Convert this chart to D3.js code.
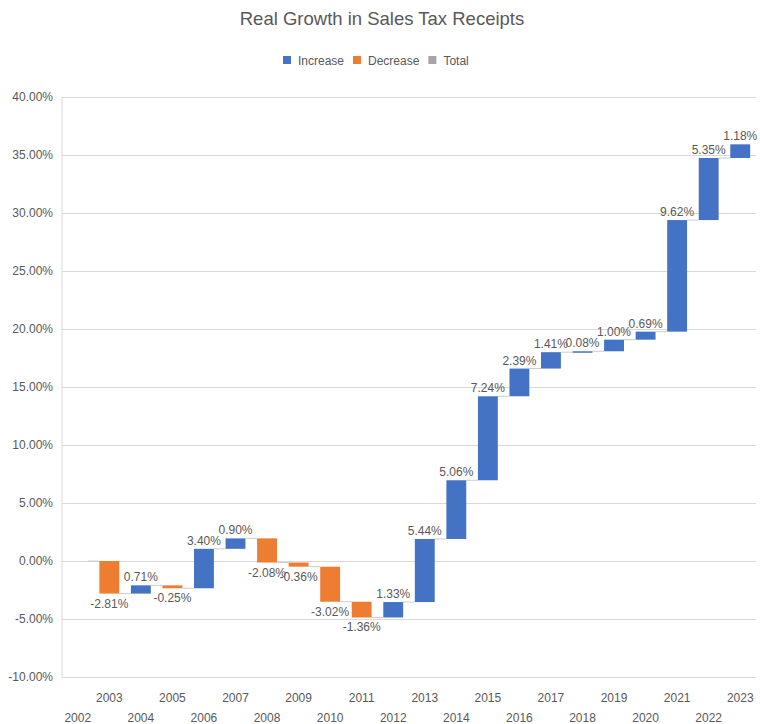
<!DOCTYPE html>
<html>
<head>
<meta charset="utf-8">
<script src="https://cdn.jsdelivr.net/npm/d3@7"></script>
<style>
  body { margin: 0; background: #fff; }
  svg { display: block; font-family: "Liberation Sans", Arial, sans-serif; }
</style>
</head>
<body>
<svg id="chart" width="760" height="724"></svg>
<script>
// data
const years = ["2002", "2003", "2004", "2005", "2006", "2007", "2008", "2009", "2010", "2011", "2012",
	"2013", "2014", "2015", "2016", "2017", "2018", "2019", "2020", "2021", "2022", "2023"];
const changes = [null, -2.81, 0.71, -0.25, 3.40, 0.90, -2.08, -0.36, -3.02, -1.36, 1.33,
	5.44, 5.06, 7.24, 2.39, 1.41, 0.08, 1.00, 0.69, 9.62, 5.35, 1.18];
const yTicks = [-10, -5, 0, 5, 10, 15, 20, 25, 30, 35, 40];
const legendItems = [
	{ name: "Increase", color: "#4472C4" },
	{ name: "Decrease", color: "#ED7D31" },
	{ name: "Total", color: "#A5A5A5" },
];

const textColor = "#595959";
const gridColor = "#D9D9D9";

// plain hyphen for negatives, like the original
const pct = (v) => d3.formatLocale({ decimal: ".", thousands: ",", grouping: [3], currency: ["", ""], minus: "-" })
	.format(".2f")(v) + "%";

const svg = d3.select("#chart");
const margin = { top: 97, right: 4, bottom: 47, left: 62 };
const width = 760 - margin.left - margin.right;
const height = 724 - margin.top - margin.bottom;

// build running totals for the waterfall
let running = 0;
const steps = years.map((year, i) => {
	const v = changes[i] || 0;
	const start = running;
	running += v;
	return { year, value: changes[i], start, end: running };
});

const x = d3.scaleBand().domain(years).range([0, width]).paddingInner(0.37).paddingOuter(0.185);
const y = d3.scaleLinear().domain([-10, 40]).range([height, 0]);

const g = svg.append("g").attr("transform", `translate(${margin.left},${margin.top})`);

// title
svg.append("text")
	.attr("x", 382)
	.attr("y", 25)
	.attr("text-anchor", "middle")
	.attr("fill", textColor)
	.style("font-size", "18.5px")
	.text("Real Growth in Sales Tax Receipts");

// legend
const legend = svg.append("g").attr("transform", "translate(283,60)");
let lx = 0;
legendItems.forEach((item) => {
	legend.append("rect").attr("x", lx).attr("y", -4).attr("width", 8).attr("height", 8).attr("fill", item.color);
	const t = legend.append("text")
		.attr("x", lx + 15)
		.attr("y", 4.5)
		.attr("fill", textColor)
		.style("font-size", "12px")
		.text(item.name);
	lx += 15 + t.node().getComputedTextLength() + 9;
});

// gridlines + y axis labels
const yAxis = d3.axisLeft(y)
	.tickValues(yTicks)
	.tickSize(-width)
	.tickPadding(9)
	.tickFormat(pct);

g.append("g")
	.call(yAxis)
	.call((a) => a.select(".domain").remove())
	.call((a) => a.selectAll("line").attr("stroke", gridColor))
	.call((a) => a.selectAll("text").attr("fill", textColor).style("font-size", "12px").attr("font-family", null));

// left axis line
g.append("line")
	.attr("x1", 0).attr("x2", 0)
	.attr("y1", 0).attr("y2", height)
	.attr("stroke", gridColor);

// x axis labels, staggered in two rows
g.append("g")
	.selectAll("text")
	.data(years)
	.join("text")
	.attr("x", (d) => x(d) + x.bandwidth() / 2)
	.attr("y", (d, i) => height + (i % 2 === 1 ? 25 : 45))
	.attr("text-anchor", "middle")
	.attr("fill", textColor)
	.style("font-size", "12px")
	.text((d) => d);

const shown = steps.filter((d) => d.value !== null);

// connector lines
g.append("g")
	.selectAll("line")
	.data(steps.slice(0, -1))
	.join("line")
	.attr("x1", (d) => x(d.year) + x.bandwidth())
	.attr("x2", (d, i) => x(years[i + 1]))
	.attr("y1", (d) => y(d.end))
	.attr("y2", (d) => y(d.end))
	.attr("stroke", "#BFBFBF")
	.attr("stroke-width", 0.8);

// bars
g.append("g")
	.selectAll("rect")
	.data(shown)
	.join("rect")
	.attr("x", (d) => x(d.year))
	.attr("width", x.bandwidth())
	.attr("y", (d) => y(Math.max(d.start, d.end)))
	.attr("height", (d) => Math.max(1.5, Math.abs(y(d.start) - y(d.end))))
	.attr("fill", (d) => (d.value >= 0 ? legendItems[0].color : legendItems[1].color));

// data labels
g.append("g")
	.selectAll("text")
	.data(shown)
	.join("text")
	.attr("x", (d) => x(d.year) + x.bandwidth() / 2)
	.attr("y", (d) => (d.value >= 0 ? y(d.end) - 4 : y(d.end) + 14))
	.attr("text-anchor", "middle")
	.attr("fill", textColor)
	.style("font-size", "12px")
	.text((d) => pct(d.value));
</script>
</body>
</html>
